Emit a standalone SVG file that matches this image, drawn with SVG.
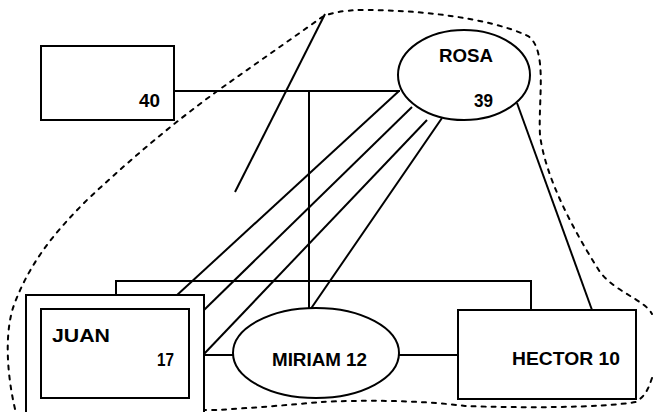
<svg xmlns="http://www.w3.org/2000/svg" width="653" height="412" viewBox="0 0 653 412">
<style>
.s{fill:none;stroke:#000;stroke-width:2}
.n{fill:#fff;stroke:#000;stroke-width:2}
.t{font-family:"Liberation Sans",Arial,sans-serif;font-weight:bold;font-size:19px;fill:#000}
.b{fill:none;stroke:#000;stroke-width:2;stroke-dasharray:4 6;stroke-linecap:round}
</style>
<rect width="653" height="412" fill="#fff"/>
<g id="boundary">
<path class="b" d="M15,409 C6,370 5,330 14,305 C30,262 55,232 87,200 C140,150 190,110 230,82 L318,20 Q330,10 365,10 C420,10 490,18 528,36 C548,50 538,100 540,135 C545,175 570,225 600,272 C615,292 645,300 652,314"/>
<path class="b" d="M652,378 C648,390 645,396 636,402 C600,408 520,408 465,406 C420,400 360,400 320,402 C290,405 250,408 217,410 C150,410 90,410 40,410"/>
</g>
<g id="connectors">
<line class="s" x1="174" y1="91" x2="400" y2="91"/>
<line class="s" x1="309" y1="91" x2="309" y2="310"/>
<line class="s" x1="325" y1="14" x2="235" y2="192"/>
<line class="s" x1="399" y1="91" x2="176" y2="296"/>
<line class="s" x1="412" y1="107" x2="204" y2="310"/>
<line class="s" x1="427" y1="120" x2="204" y2="354"/>
<line class="s" x1="442" y1="118" x2="310" y2="310"/>
<line class="s" x1="517" y1="103" x2="592" y2="310"/>
<polyline class="s" points="116,295 116,281 531,281 531,310"/>
<line class="s" x1="204" y1="355" x2="233" y2="355"/>
<line class="s" x1="399" y1="355" x2="458" y2="355"/>
</g>
<g id="node40">
<rect class="n" x="41" y="46" width="133" height="74"/>
<text class="t" x="139" y="107" textLength="21" lengthAdjust="spacingAndGlyphs">40</text>
</g>
<g id="rosa">
<ellipse class="n" cx="464" cy="75" rx="66" ry="45"/>
<text class="t" x="439" y="62" textLength="54" lengthAdjust="spacingAndGlyphs">ROSA</text>
<text class="t" x="474" y="107" textLength="19" lengthAdjust="spacingAndGlyphs">39</text>
</g>
<g id="juan">
<rect class="n" x="26" y="295" width="178" height="130"/>
<rect class="n" x="41" y="309" width="148" height="89"/>
<text class="t" x="52" y="342" textLength="58" lengthAdjust="spacingAndGlyphs">JUAN</text>
<text class="t" x="157" y="366" textLength="17" lengthAdjust="spacingAndGlyphs">17</text>
</g>
<g id="miriam">
<ellipse class="n" cx="316" cy="353" rx="83" ry="45"/>
<text class="t" x="272" y="366" textLength="95" lengthAdjust="spacingAndGlyphs">MIRIAM 12</text>
</g>
<g id="hector">
<rect class="n" x="458" y="310" width="178" height="89"/>
<text class="t" x="512" y="365" textLength="108" lengthAdjust="spacingAndGlyphs">HECTOR 10</text>
</g>
</svg>
